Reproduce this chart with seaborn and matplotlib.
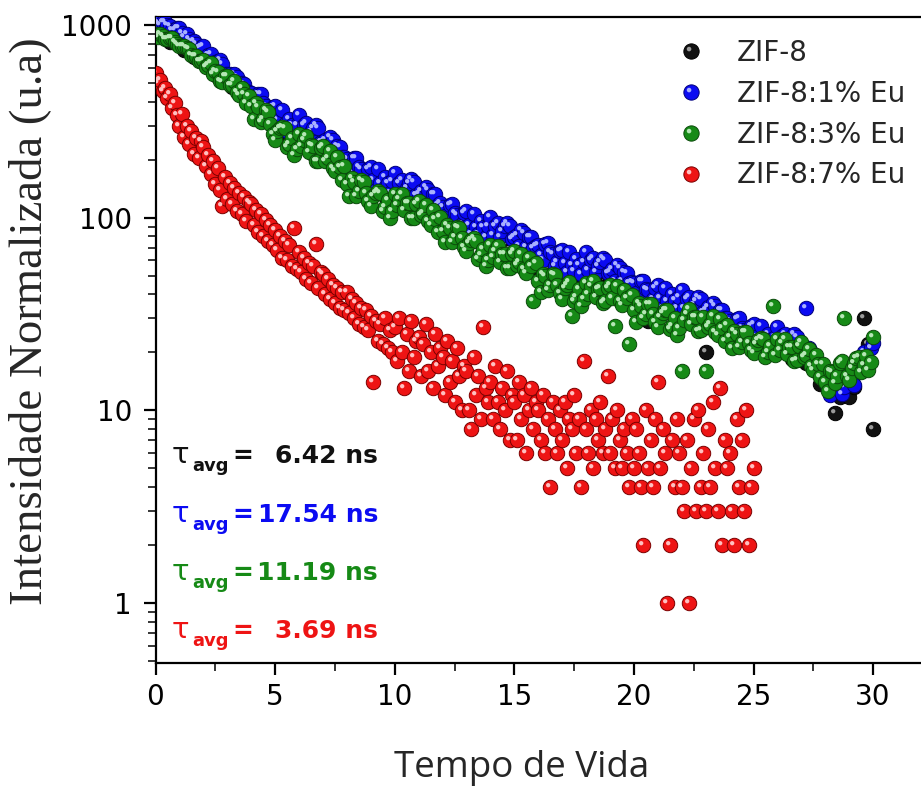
import numpy as np
import pandas as pd
import matplotlib
matplotlib.use('Agg')
import matplotlib.pyplot as plt
import seaborn as sns
from matplotlib.path import Path
from matplotlib.lines import Line2D
from matplotlib.legend_handler import HandlerTuple
from matplotlib.ticker import LogLocator, MultipleLocator, NullFormatter, FuncFormatter

# decaimento da luminescencia (contagens normalizadas)
# canal de 0.2 ns para ZIF-8; canal de 0.1 ns para as amostras com Eu
dt_zif = 0.2
dt_eu = 0.1

zif8 = [931, 919, 860, 820, 829, 795, 746, 737, 686, 696,
        654, 603, 627, 535, 537, 539, 477, 500, 457, 414,
        437, 424, 361, 320, 355, 326, 290, 306, 263, 303,
        268, 242, 267, 213, 223, 233, 196, 219, 195, 170,
        187, 186, 161, 147, 166, 156, 139, 148, 129, 150,
        133, 123, 136, 110, 117, 123, 105, 119, 107, 96,
        106, 106, 93, 85, 97, 92, 82, 87, 75, 87,
        78, 71, 80, 64, 68, 71, 61, 69, 62.5, 55.5,
        62, 63, 55, 50, 58, 55, 50, 54, 47, 55,
        49.5, 45.6, 51, 41, 44, 46.6, 40, 46, 41.5, 36.9,
        41.6, 42.3, 37.4, 29, 39.4, 37.7, 33.8, 36.6, 31.7, 37.4,
        33.3, 30.9, 34.9, 27.9, 29.9, 20, 27.4, 31.3, 28, 25,
        28, 28.4, 25, 23, 26.3, 25.5, 23, 24.7, 21.2, 24.8,
        22.2, 20.4, 22.9, 18.5, 19.6, 21.2, 17.7, 18.9, 16, 13.7,
        14.6, 14.4, 9.7, 11.7, 13.7, 11.7, 13.2, 16.5, 30, 22,
        8]

eu1 = [1059, 1022, 1002, 1040, 1035, 1000, 986, 946, 947, 967,
       965, 910, 869, 901, 849, 816, 829, 797, 760, 769,
       781, 670, 702, 703, 624, 640, 650, 655, 629, 560,
       554, 557, 506, 557, 537, 479, 502, 493, 452, 448,
       444, 392, 367, 439, 440, 392, 378, 323, 335, 376,
       381, 323, 287, 363, 307, 282, 326, 301, 266, 304,
       341, 272, 301, 309, 261, 279, 292, 302, 291, 246,
       248, 254, 221, 263, 253, 213, 235, 232, 206, 206,
       201, 179, 170, 203, 204, 183, 178, 153, 159, 179,
       183, 156, 140, 178, 152, 140, 163, 151, 135, 155,
       170, 136, 152, 157, 133, 143, 152, 158, 153, 131,
       132, 137, 120, 145, 140, 119, 132, 132, 117, 119,
       114, 102, 96, 117, 118, 106, 103, 89, 93, 106,
       108, 92, 82, 105, 89, 82, 96, 89, 79, 91,
       101, 81, 91, 94, 79, 85.5, 91, 94, 91, 77.6,
       79, 81, 71, 86, 83, 70.7, 79, 79, 70, 71.4,
       72, 64, 60, 73, 74, 66.6, 65, 56.4, 59, 66.8,
       68, 58.4, 52.5, 66.6, 57, 52.7, 61, 57, 51, 58.6,
       66, 53.7, 60, 61.7, 52, 56.2, 59, 61.8, 60, 51.4,
       52, 53.9, 47, 56.7, 55, 46.7, 52, 51.5, 46, 46.5,
       46, 40.9, 39, 46.8, 47, 42.7, 42, 36.4, 38, 43.3,
       45, 38.2, 34, 43.4, 37, 34.5, 40, 37.4, 34, 38.7,
       42, 33.9, 38, 39, 33, 35.4, 37, 39, 38, 32.5,
       33, 34.3, 30, 36.3, 35, 29.8, 33, 33.3, 30, 30.3,
       29, 25.8, 24.6, 29.8, 30, 26.9, 26, 22.8, 24, 27.3,
       28, 23.9, 21.5, 27.3, 23, 21.3, 25, 23.3, 20.7, 24,
       27, 21.8, 24.4, 25, 21, 22.6, 24, 24.9, 24, 20.5,
       21, 21, 34, 21, 20, 16.5, 18, 17.8, 15.5, 15.4,
       15, 13.2, 12, 14.6, 14.7, 13.6, 13.7, 12.2, 13.2, 15.3,
       16, 14.5, 13.6, 18.2, 16.5, 16.1, 20, 19.1, 17.7, 21.1,
       22.4]

eu3 = [895, 863, 896, 880, 842, 845, 860, 852, 820, 795,
       778, 782, 774, 764, 747, 699, 692, 691, 650, 647,
       662, 604, 621, 632, 560, 579, 570, 512, 504, 544,
       546, 488, 490, 509, 449, 432, 472, 437, 394, 428,
       378, 326, 395, 374, 312, 325, 360, 353, 305, 273,
       253, 282, 291, 296, 291, 232, 242, 260, 212, 227,
       273, 236, 253, 265, 220, 238, 236, 198, 197, 230,
       236, 198, 204, 222, 182, 174, 207, 184, 156, 185,
       149, 130, 161, 154, 130, 138, 156, 154, 135, 122,
       115, 130, 135, 137, 135, 108, 113, 123, 100, 108,
       133, 116, 125, 132, 109, 119, 119, 100, 100, 118,
       122, 103, 106, 116, 96, 92, 110, 98.7, 84, 101,
       85, 74.5, 92, 88, 75, 79, 89, 88.3, 78, 70.5,
       67, 74.2, 77, 78, 76, 61.2, 64, 68.8, 56, 60.1,
       72, 62.7, 67, 71.2, 59, 64.8, 65, 54.9, 55, 64.5,
       67, 56.7, 59, 64.9, 54, 51.8, 62, 56.3, 37, 57.9,
       47, 41.4, 51, 49.6, 42, 44.8, 51, 50.7, 45, 40.5,
       38, 43.2, 45, 46.3, 31, 37, 39, 42.5, 35, 37.9,
       46, 40.2, 44, 46.7, 39, 42.8, 43, 36.2, 37, 43.4,
       45, 38.4, 27.5, 44.3, 37, 35.2, 42, 38.3, 22, 39.6,
       33, 28.9, 36, 34.9, 30, 31.5, 35.5, 35.6, 31.5, 28.6,
       27, 30.7, 32, 33.2, 33, 26.3, 27.5, 30.1, 24.7, 26.8,
       16, 29.3, 31.7, 33.7, 28, 30.7, 30.5, 25.8, 26, 30.7,
       16, 27, 28, 30.9, 25.6, 24.6, 29.8, 26.8, 23, 27.9,
       23.9, 21, 25.9, 25, 21.3, 22.6, 25.5, 25.5, 22.5, 20.7,
       19.8, 22.2, 23.2, 23.8, 23.6, 19, 20, 21.6, 35, 19.5,
       23.6, 20.6, 22.3, 23.5, 19.6, 21.4, 21.4, 18.1, 18.2, 21.6,
       22.6, 18.9, 19.3, 20.8, 16.9, 16.2, 19.4, 17.4, 14.9, 17.4,
       14, 12.6, 16, 15.9, 13.9, 15.1, 17.6, 18, 30, 15,
       14.3, 16.5, 17.7, 18.6, 18.9, 15.8, 17.3, 19.2, 16.2, 17.9,
       24]

eu7 = [565, 500, 520, 455, 470, 418, 440, 372, 395, 340,
       300, 345, 262, 300, 240, 282, 215, 258, 205, 250,
       232, 185, 212, 168, 198, 150, 180, 140, 115, 162,
       125, 152, 118, 142, 108, 134, 104, 128, 96, 120,
       118, 92, 110, 84, 104, 80, 97, 76, 92, 72,
       86, 68, 80, 62, 76, 60, 72, 56, 88, 54,
       66, 52, 62, 48, 58, 46, 56, 73, 43, 52,
       51, 40, 48, 38, 45, 36, 43, 34, 41, 33,
       41, 32, 38, 30, 36, 28, 34, 27, 33, 26,
       31, 14, 29, 23, 28, 22, 30, 21, 26, 20,
       27, 18, 30, 20, 13, 25, 16, 29, 19, 23,
       24, 15, 22, 28, 16, 20, 13, 25, 17, 21,
       19, 12, 23, 14, 18, 11, 21, 15, 10, 17,
       16, 10, 8, 19, 12, 15, 9, 27, 13, 11,
       14, 9, 17, 11, 8, 13, 10, 16, 7, 12,
       11, 7, 14, 9, 12, 6, 10, 13, 8, 11,
       10, 7, 12, 6, 9, 4, 11, 8, 6, 10,
       7, 11, 5, 9, 8, 12, 6, 9, 4, 18,
       8, 6, 10, 5, 9, 7, 11, 6, 8, 15,
       6, 9, 5, 10, 7, 5, 8, 6, 4, 9,
       5, 8, 6, 4, 2, 10, 5, 7, 4, 9,
       14, 5, 8, 6, 1, 2, 7, 4, 9, 6,
       4, 3, 7, 1, 5, 9, 3, 10, 4, 6,
       3, 8, 4, 11, 5, 3, 13, 2, 7, 5,
       6, 3, 2, 9, 4, 7, 3, 10, 2, 4,
       5]

amostras = ['ZIF-8', 'ZIF-8:1% Eu', 'ZIF-8:3% Eu', 'ZIF-8:7% Eu']
tau_avg = ['6.42', '17.54', '11.19', '3.69']
cores = ['#111111', '#0b0bf2', '#168a16', '#ee1414']
bordas = ['#000000', '#00007a', '#0a4a0a', '#7a0000']
brilhos = ['#9a9a9a', '#a8b0ff', '#b5e6b5', '#ffc0c0']

series = [zif8, eu1, eu3, eu7]
passos = [dt_zif, dt_eu, dt_eu, dt_eu]

sns.set_style('ticks')
plt.rcParams['font.family'] = ['DejaVu Sans']

W, H = 921, 787
fig = plt.figure(figsize=(W / 100, H / 100), dpi=100)
ax = fig.add_axes([155.5 / W, (H - 663) / H, 1 - 155.5 / W, (663 - 17) / H])

# brilho da "esfera": circulo pequeno deslocado para cima/esquerda
circ = Path.circle(center=(-0.32, 0.32), radius=0.3)
glint = Path(np.vstack([circ.vertices, [[1, 1], [-1, -1]]]),
             np.concatenate([circ.codes, [Path.MOVETO, Path.MOVETO]]))

S = 108
for vals, dt, c, e, g in zip(series, passos, cores, bordas, brilhos):
    df = pd.DataFrame({'tempo': np.arange(len(vals)) * dt, 'intens': vals})
    sns.scatterplot(data=df, x='tempo', y='intens', color=c, s=S,
                    edgecolor=e, linewidth=0.7, ax=ax, legend=False, zorder=3)
    ax.scatter(df['tempo'], df['intens'], marker=glint, s=S, color=g,
               linewidths=0, zorder=3)

ax.set_yscale('log')
ax.set_ylim(0.489, 1100)
ax.set_xlim(0, (W - 155.5) / 23.92)
ax.xaxis.set_major_locator(MultipleLocator(5))
ax.xaxis.set_minor_locator(MultipleLocator(2.5))
ax.yaxis.set_major_locator(LogLocator(base=10))
ax.yaxis.set_minor_locator(LogLocator(base=10, subs=np.arange(2, 10)))
ax.yaxis.set_major_formatter(FuncFormatter(lambda v, p: f'{v:g}'))
ax.yaxis.set_minor_formatter(NullFormatter())
ax.tick_params(which='major', direction='out', length=8.5, width=1.6,
               labelsize=20, pad=6, colors='black')
ax.tick_params(axis='y', which='major', pad=8.5)
ax.tick_params(which='minor', direction='out', length=5.5, width=1.3)
ax.spines['right'].set_visible(False)
for s in ['left', 'bottom', 'top']:
    ax.spines[s].set_linewidth(1.6)
    ax.spines[s].set_color('black')
ax.set_xlabel('')
ax.set_ylabel('')

fig.text(30 / W, 1 - 321 / H, 'Intensidade Normalizada (u.a)', rotation=90,
         ha='center', va='center', fontsize=33.7, family='Liberation Serif')
fig.text(522 / W, 1 - 777 / H, 'Tempo de Vida', ha='center', va='baseline',
         fontsize=26.5, family='Open Sans')

# legenda
handles = []
for c, e, g in zip(cores, bordas, brilhos):
    h1 = Line2D([], [], ls='', marker='o', markersize=11, markerfacecolor=c,
                markeredgecolor=e, markeredgewidth=0.7)
    h2 = Line2D([], [], ls='', marker=glint, markersize=11, markerfacecolor=g,
                markeredgewidth=0, color=g)
    handles.append((h1, h2))
ax.legend(handles, amostras, handler_map={tuple: HandlerTuple(ndivide=1, pad=0)},
          loc='upper left', bbox_to_anchor=(677 / W, 1 - 39 / H),
          bbox_transform=fig.transFigure, frameon=False, fontsize=20,
          handlelength=1.0, handletextpad=1.15, labelspacing=0.46,
          borderpad=0, borderaxespad=0)

# tempos de vida medios
bases = [463, 522, 580, 638]
for tv, c, yb in zip(tau_avg, cores, bases):
    fig.text(172 / W, 1 - yb / H, '\u03c4', color=c, fontsize=21,
             va='baseline', ha='left')
    fig.text(192 / W, 1 - (yb + 8) / H, 'avg', color=c, fontsize=13,
             fontweight='bold', va='baseline', ha='left')
    fig.text(232 / W, 1 - yb / H, '=', color=c, fontsize=18,
             fontweight='bold', va='baseline', ha='left')
    fig.text(378 / W, 1 - yb / H, f'{tv} ns', color=c, fontsize=18,
             fontweight='bold', va='baseline', ha='right')

fig.savefig('out.png', dpi=100, facecolor='white')
